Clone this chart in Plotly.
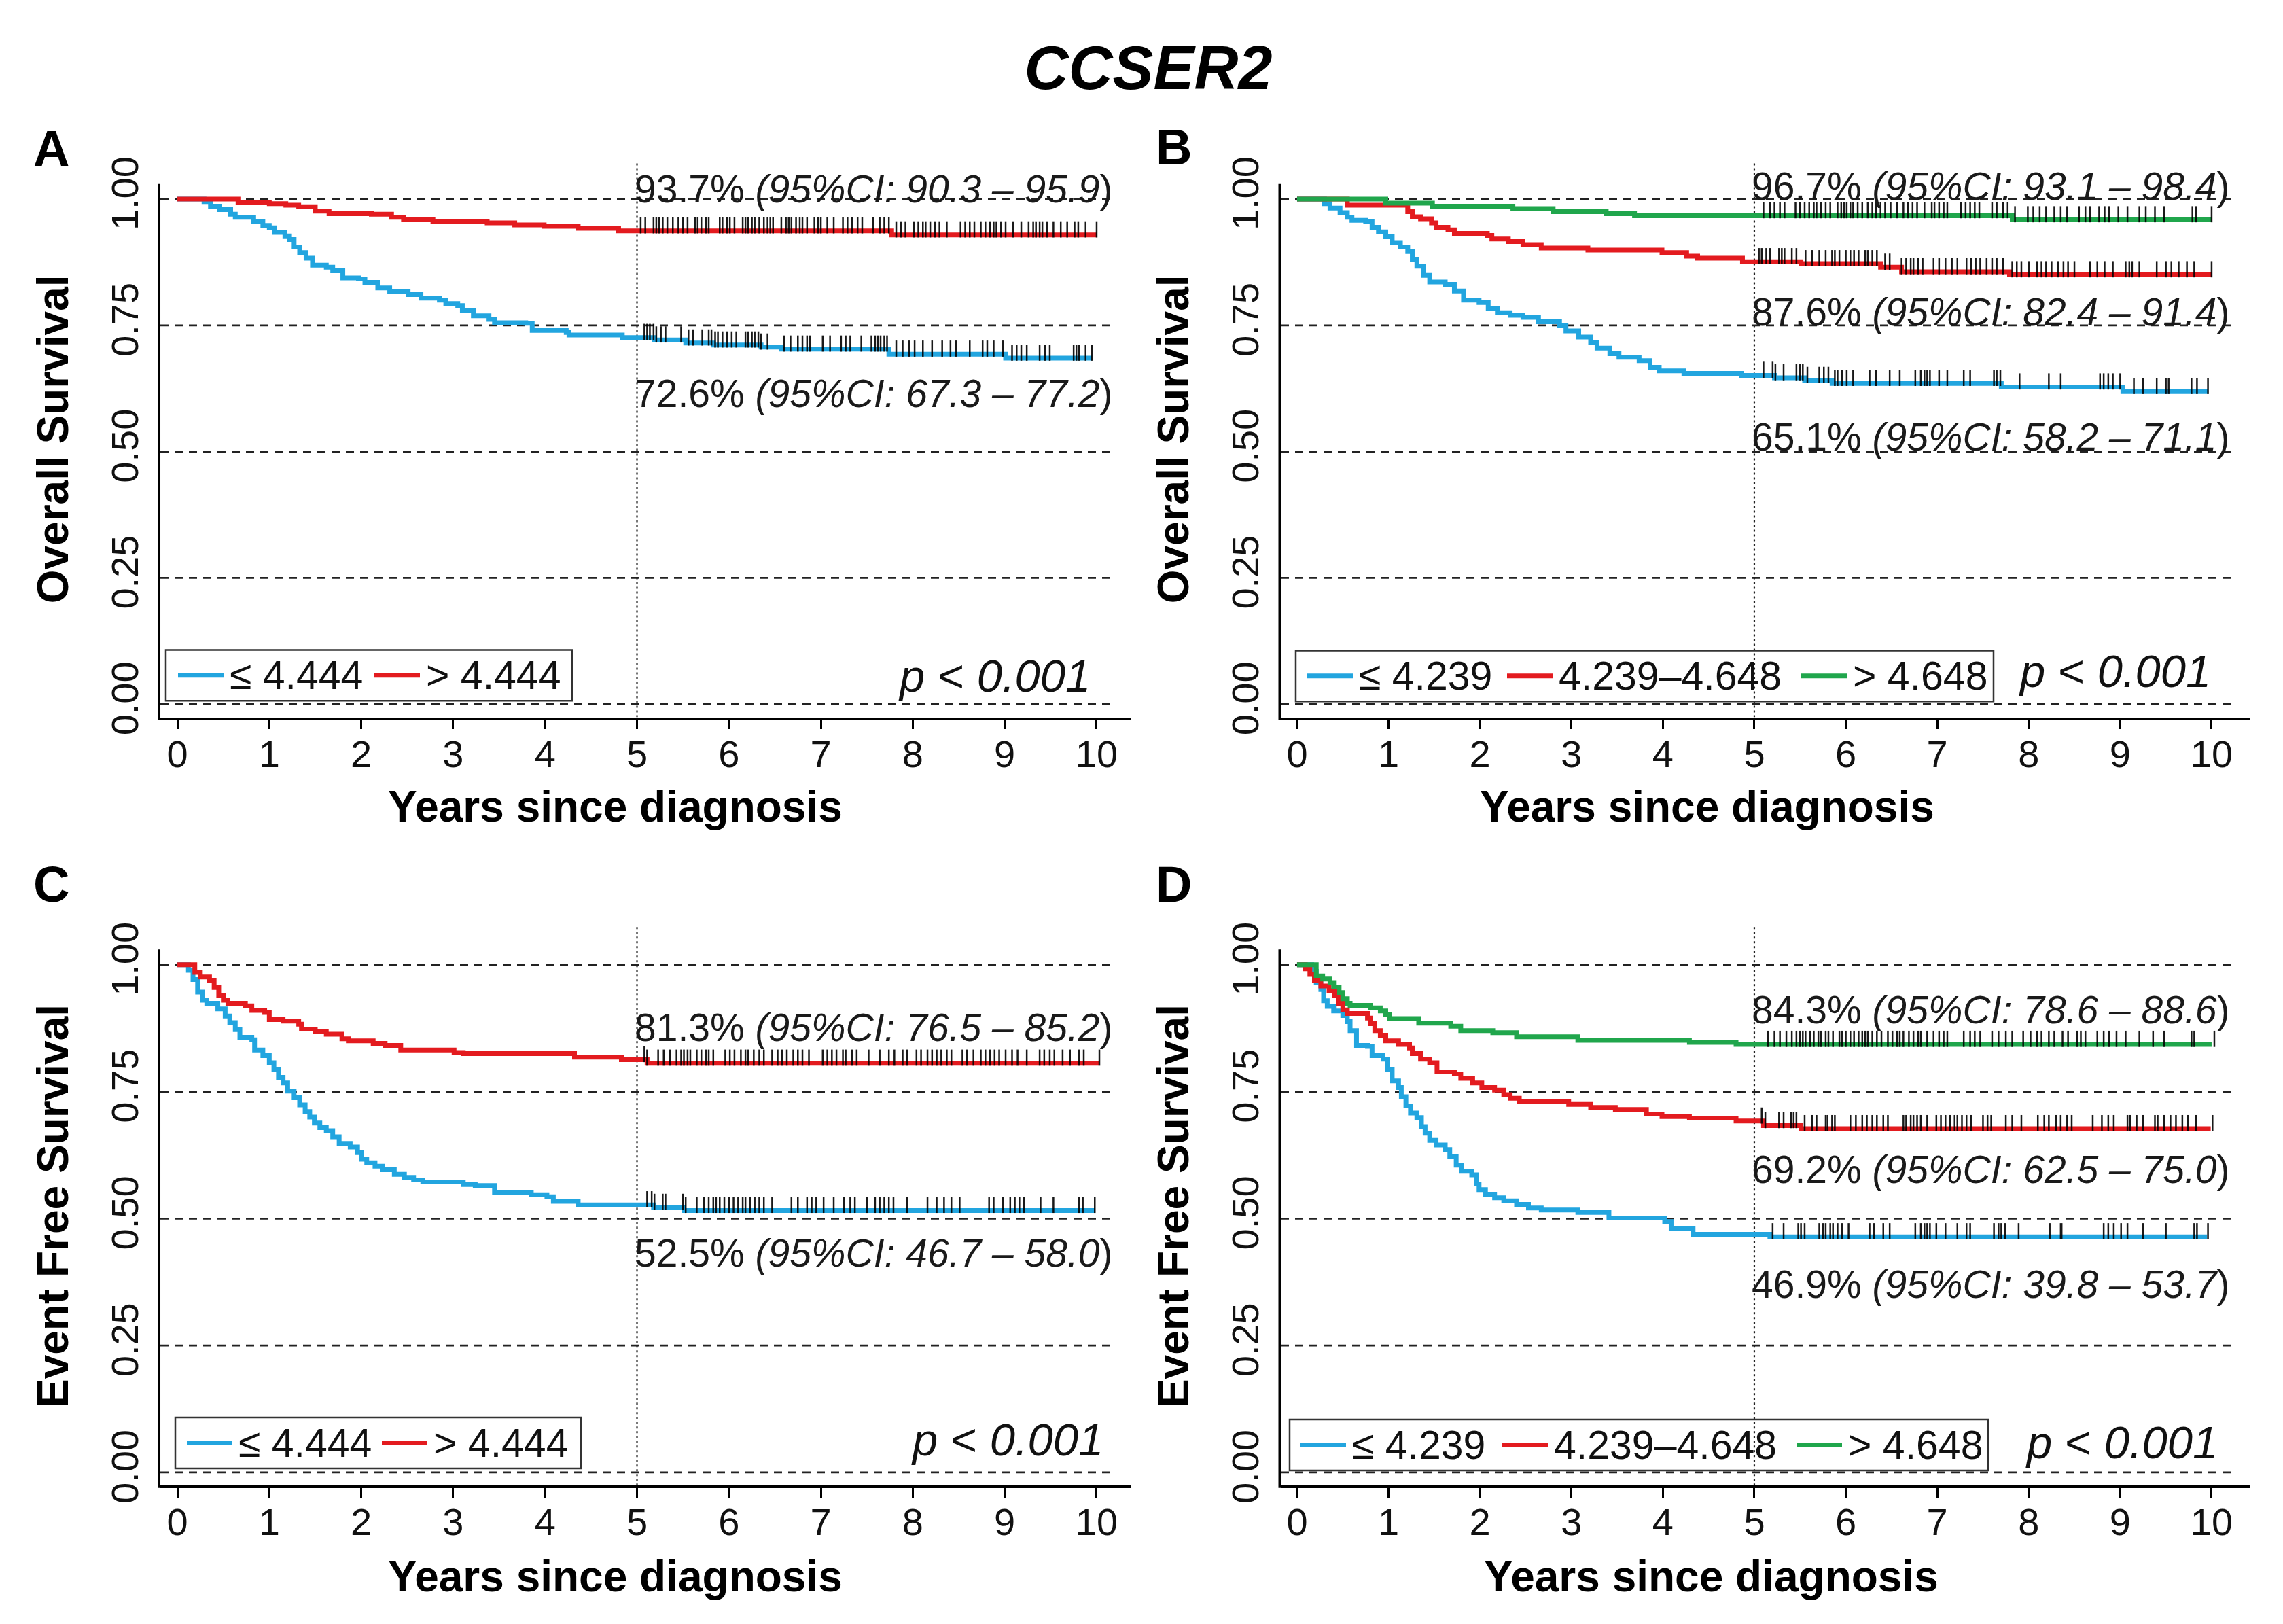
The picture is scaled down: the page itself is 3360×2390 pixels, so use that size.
import bisect
import plotly.graph_objects as go

# ---------------- data ----------------
# step times (years) and survival right after each step; END = last follow-up
A_LOW_T = [0.29, 0.36, 0.46, 0.58, 0.63, 0.83, 0.93, 1.00, 1.06, 1.17, 1.22, 1.27, 1.33, 1.40, 1.47, 1.62, 1.69, 1.80,
           1.97, 2.04, 2.18, 2.31, 2.51, 2.65, 2.85, 2.92, 3.05, 3.10, 3.22, 3.39, 3.45, 3.79, 3.86, 4.23, 4.26, 4.84,
           5.19, 5.53, 5.83, 6.35, 6.57, 7.74, 9.01]
A_LOW_S = [0.995, 0.986, 0.979, 0.970, 0.964, 0.955, 0.948, 0.943, 0.934, 0.927, 0.920, 0.905, 0.894, 0.883, 0.869,
           0.865, 0.858, 0.844, 0.842, 0.835, 0.824, 0.817, 0.811, 0.804, 0.800, 0.793, 0.789, 0.780, 0.769, 0.762,
           0.755, 0.754, 0.740, 0.736, 0.731, 0.726, 0.721, 0.715, 0.711, 0.707, 0.703, 0.693, 0.685]
A_LOW_END = 9.95
A_LOW_CENS = [5.08, 5.11, 5.14, 5.18, 5.21, 5.26, 5.31, 5.48, 5.56, 5.61, 5.71, 5.78, 5.81, 5.85, 5.88, 5.93, 5.98,
              6.03, 6.08, 6.18, 6.21, 6.25, 6.28, 6.32, 6.35, 6.42, 6.60, 6.67, 6.75, 6.80, 6.85, 6.88, 7.02, 7.10,
              7.22, 7.27, 7.32, 7.44, 7.55, 7.59, 7.62, 7.65, 7.69, 7.72, 7.82, 7.89, 7.96, 8.02, 8.11, 8.21, 8.32,
              8.41, 8.47, 8.62, 8.76, 8.81, 8.88, 8.98, 9.08, 9.13, 9.18, 9.24, 9.38, 9.44, 9.49, 9.75, 9.78, 9.81,
              9.88, 9.95]

A_HIGH_T = [0.66, 1.00, 1.18, 1.32, 1.50, 1.65, 2.11, 2.33, 2.46, 2.78, 3.37, 3.67, 3.99, 4.36, 4.80, 7.77]
A_HIGH_S = [0.994, 0.991, 0.988, 0.985, 0.976, 0.971, 0.970, 0.964, 0.960, 0.956, 0.953, 0.949, 0.946, 0.942,
            0.937, 0.929]
A_HIGH_END = 10.0
A_HIGH_CENS = [5.04, 5.09, 5.18, 5.21, 5.24, 5.28, 5.33, 5.39, 5.45, 5.50, 5.55, 5.63, 5.66, 5.70, 5.75, 5.78, 5.90,
               5.93, 5.98, 6.01, 6.06, 6.15, 6.18, 6.21, 6.25, 6.28, 6.33, 6.38, 6.42, 6.45, 6.48, 6.57, 6.62, 6.65,
               6.68, 6.73, 6.77, 6.80, 6.85, 6.93, 6.97, 7.00, 7.07, 7.14, 7.24, 7.29, 7.34, 7.40, 7.45, 7.57, 7.64,
               7.69, 7.74, 7.82, 7.87, 7.92, 8.01, 8.06, 8.11, 8.14, 8.19, 8.24, 8.29, 8.37, 8.52, 8.57, 8.62, 8.67,
               8.74, 8.79, 8.84, 8.88, 8.91, 8.96, 9.01, 9.09, 9.18, 9.26, 9.31, 9.34, 9.38, 9.41, 9.46, 9.53, 9.61,
               9.68, 9.76, 9.80, 9.88, 10.0]

B_LOW_T = [0.30, 0.36, 0.47, 0.55, 0.60, 0.75, 0.82, 0.89, 0.97, 1.04, 1.13, 1.21, 1.26, 1.31, 1.38, 1.45, 1.62, 1.72,
           1.82, 1.99, 2.09, 2.19, 2.33, 2.47, 2.64, 2.87, 2.94, 3.08, 3.21, 3.28, 3.42, 3.52, 3.74, 3.86, 3.96, 4.23,
           4.86, 5.22, 5.55, 5.85, 7.70, 9.03]
B_LOW_S = [0.991, 0.982, 0.973, 0.964, 0.958, 0.955, 0.944, 0.935, 0.926, 0.914, 0.905, 0.896, 0.881, 0.867, 0.849,
           0.836, 0.831, 0.818, 0.800, 0.795, 0.784, 0.775, 0.770, 0.766, 0.757, 0.750, 0.739, 0.727, 0.716, 0.705,
           0.694, 0.687, 0.680, 0.667, 0.660, 0.655, 0.651, 0.646, 0.641, 0.635, 0.628, 0.619]
B_LOW_END = 9.96
B_LOW_CENS = [5.10, 5.20, 5.23, 5.32, 5.46, 5.50, 5.53, 5.58, 5.71, 5.76, 5.81, 5.88, 5.91, 5.96, 6.01, 6.08, 6.26,
              6.33, 6.48, 6.59, 6.76, 6.82, 6.86, 6.89, 6.92, 7.02, 7.11, 7.29, 7.36, 7.62, 7.65, 7.69, 7.90, 8.22,
              8.35, 8.78, 8.82, 8.87, 8.92, 9.00, 9.15, 9.25, 9.40, 9.50, 9.53, 9.78, 9.84, 9.96]

B_MID_T = [0.55, 1.21, 1.26, 1.35, 1.47, 1.52, 1.65, 1.72, 2.08, 2.13, 2.31, 2.47, 2.67, 3.18, 3.99, 4.26, 4.38, 4.87,
           5.51, 6.38, 6.61, 7.79]
B_MID_S = [0.988, 0.975, 0.965, 0.961, 0.953, 0.944, 0.939, 0.932, 0.928, 0.921, 0.916, 0.910, 0.903, 0.899, 0.894,
           0.887, 0.883, 0.876, 0.872, 0.865, 0.856, 0.850]
B_MID_END = 10.0
B_MID_CENS = [5.05, 5.08, 5.13, 5.17, 5.27, 5.30, 5.33, 5.41, 5.46, 5.56, 5.63, 5.71, 5.78, 5.85, 5.88, 5.93, 6.00,
              6.05, 6.09, 6.14, 6.21, 6.24, 6.29, 6.34, 6.43, 6.48, 6.61, 6.66, 6.71, 6.74, 6.79, 6.84, 6.96, 7.02,
              7.09, 7.16, 7.22, 7.32, 7.37, 7.42, 7.47, 7.54, 7.60, 7.65, 7.72, 7.82, 7.87, 7.92, 8.00, 8.09, 8.14,
              8.19, 8.25, 8.32, 8.38, 8.43, 8.50, 8.67, 8.75, 8.83, 8.92, 9.06, 9.10, 9.13, 9.21, 9.40, 9.50, 9.56,
              9.64, 9.73, 9.81, 10.0]

B_HIGH_T = [0.97, 1.48, 2.36, 2.80, 3.38, 3.69, 7.82]
B_HIGH_S = [0.992, 0.986, 0.981, 0.975, 0.971, 0.967, 0.959]
B_HIGH_END = 10.0
B_HIGH_CENS = [5.10, 5.17, 5.22, 5.28, 5.33, 5.45, 5.50, 5.55, 5.60, 5.65, 5.68, 5.73, 5.78, 5.83, 5.91, 5.95, 5.98,
               6.01, 6.05, 6.08, 6.13, 6.18, 6.24, 6.29, 6.33, 6.38, 6.43, 6.49, 6.56, 6.63, 6.68, 6.73, 6.78, 6.86,
               6.94, 6.97, 7.02, 7.07, 7.11, 7.26, 7.31, 7.36, 7.41, 7.46, 7.60, 7.65, 7.72, 7.77, 7.85, 7.99, 8.05,
               8.12, 8.19, 8.28, 8.35, 8.42, 8.55, 8.62, 8.67, 8.77, 8.83, 8.88, 8.98, 9.08, 9.21, 9.28, 9.38, 9.48,
               9.79, 9.83, 10.0]

C_LOW_T = [0.12, 0.17, 0.22, 0.27, 0.32, 0.44, 0.52, 0.57, 0.63, 0.68, 0.81, 0.84, 0.93, 1.00, 1.05, 1.10, 1.15, 1.20,
           1.27, 1.33, 1.39, 1.44, 1.49, 1.55, 1.62, 1.69, 1.76, 1.88, 1.96, 2.00, 2.06, 2.15, 2.23, 2.36, 2.47, 2.57,
           2.67, 3.11, 3.24, 3.45, 3.85, 4.02, 4.09, 4.36, 5.18, 5.51]
C_LOW_S = [0.989, 0.971, 0.946, 0.930, 0.924, 0.913, 0.899, 0.886, 0.872, 0.857, 0.852, 0.832, 0.821, 0.807, 0.794,
           0.778, 0.767, 0.751, 0.738, 0.724, 0.711, 0.700, 0.688, 0.679, 0.673, 0.661, 0.648, 0.641, 0.630, 0.617,
           0.610, 0.603, 0.596, 0.587, 0.581, 0.576, 0.572, 0.567, 0.565, 0.552, 0.547, 0.543, 0.534, 0.527, 0.522,
           0.516]
C_LOW_END = 9.98
C_LOW_CENS = [5.11, 5.16, 5.19, 5.28, 5.31, 5.50, 5.53, 5.65, 5.73, 5.78, 5.83, 5.86, 5.90, 5.95, 6.00, 6.05, 6.10,
              6.15, 6.18, 6.23, 6.28, 6.33, 6.38, 6.47, 6.68, 6.75, 6.85, 6.90, 6.95, 7.03, 7.14, 7.25, 7.32, 7.37,
              7.50, 7.59, 7.64, 7.69, 7.74, 7.79, 7.94, 8.16, 8.26, 8.34, 8.42, 8.51, 8.83, 8.88, 8.98, 9.06, 9.11,
              9.16, 9.21, 9.39, 9.53, 9.81, 9.85, 9.98]

C_HIGH_T = [0.19, 0.25, 0.35, 0.40, 0.45, 0.50, 0.55, 0.74, 0.81, 0.95, 1.00, 1.15, 1.32, 1.35, 1.50, 1.62, 1.79, 1.86,
            2.13, 2.26, 2.43, 3.01, 3.11, 4.32, 4.83, 5.11]
C_HIGH_S = [0.985, 0.976, 0.969, 0.955, 0.940, 0.930, 0.924, 0.919, 0.910, 0.906, 0.892, 0.889, 0.883, 0.873, 0.868,
            0.863, 0.854, 0.850, 0.845, 0.841, 0.832, 0.827, 0.825, 0.818, 0.813, 0.806]
C_HIGH_END = 10.03
C_HIGH_CENS = [5.08, 5.11, 5.23, 5.29, 5.36, 5.43, 5.48, 5.51, 5.55, 5.58, 5.65, 5.70, 5.75, 5.78, 5.83, 5.96, 6.01,
               6.06, 6.13, 6.18, 6.21, 6.27, 6.33, 6.38, 6.47, 6.53, 6.58, 6.63, 6.70, 6.75, 6.80, 6.87, 7.02, 7.07,
               7.12, 7.17, 7.24, 7.27, 7.34, 7.39, 7.52, 7.64, 7.74, 7.80, 7.89, 7.94, 8.04, 8.09, 8.16, 8.21, 8.26,
               8.31, 8.37, 8.42, 8.54, 8.59, 8.66, 8.74, 8.79, 8.84, 8.89, 8.94, 9.01, 9.08, 9.14, 9.24, 9.38, 9.43,
               9.49, 9.54, 9.63, 9.71, 9.81, 9.86, 10.03]

D_LOW_T = [0.16, 0.21, 0.26, 0.29, 0.33, 0.40, 0.50, 0.55, 0.58, 0.65, 0.77, 0.82, 0.94, 0.99, 1.04, 1.11, 1.14, 1.19,
           1.24, 1.31, 1.36, 1.40, 1.45, 1.52, 1.62, 1.67, 1.74, 1.80, 1.91, 1.96, 1.99, 2.06, 2.16, 2.26, 2.40, 2.53,
           2.67, 3.07, 3.41, 4.02, 4.09, 4.33, 5.17]
D_LOW_S = [0.987, 0.965, 0.951, 0.929, 0.918, 0.909, 0.900, 0.888, 0.870, 0.841, 0.839, 0.821, 0.814, 0.794, 0.771,
           0.758, 0.740, 0.722, 0.708, 0.699, 0.681, 0.668, 0.654, 0.645, 0.636, 0.623, 0.605, 0.593, 0.586, 0.568,
           0.557, 0.548, 0.541, 0.535, 0.528, 0.521, 0.517, 0.512, 0.501, 0.494, 0.481, 0.469, 0.464]
D_LOW_END = 9.95
D_LOW_CENS = [5.20, 5.32, 5.48, 5.51, 5.55, 5.71, 5.75, 5.78, 5.83, 5.86, 5.91, 5.96, 6.03, 6.26, 6.31, 6.41, 6.48,
              6.76, 6.82, 6.86, 6.89, 6.92, 6.99, 7.09, 7.22, 7.32, 7.36, 7.62, 7.67, 7.70, 7.74, 7.89, 8.23, 8.35,
              8.36, 8.82, 8.87, 8.93, 9.01, 9.08, 9.25, 9.50, 9.81, 9.84, 9.96]

D_MID_T = [0.09, 0.14, 0.19, 0.26, 0.35, 0.41, 0.45, 0.50, 0.55, 0.77, 0.80, 0.85, 0.91, 0.97, 1.11, 1.23, 1.26, 1.35,
           1.45, 1.53, 1.72, 1.79, 1.92, 2.02, 2.16, 2.26, 2.33, 2.43, 2.97, 3.21, 3.48, 3.82, 3.99, 4.29, 4.80, 5.10,
           5.51]
D_MID_S = [0.992, 0.981, 0.969, 0.958, 0.949, 0.940, 0.924, 0.911, 0.904, 0.895, 0.884, 0.870, 0.861, 0.850, 0.843,
           0.836, 0.825, 0.814, 0.807, 0.789, 0.785, 0.776, 0.767, 0.758, 0.753, 0.744, 0.737, 0.731, 0.725, 0.719,
           0.715, 0.706, 0.701, 0.698, 0.692, 0.683, 0.677]
D_MID_END = 9.99
D_MID_CENS = [5.08, 5.12, 5.27, 5.32, 5.40, 5.43, 5.46, 5.55, 5.63, 5.68, 5.78, 5.80, 5.85, 5.88, 6.05, 6.11, 6.18,
              6.23, 6.29, 6.34, 6.41, 6.46, 6.63, 6.66, 6.71, 6.74, 6.78, 6.82, 6.89, 6.99, 7.04, 7.09, 7.14, 7.19,
              7.22, 7.27, 7.32, 7.37, 7.50, 7.55, 7.59, 7.75, 7.82, 7.92, 8.10, 8.17, 8.22, 8.30, 8.35, 8.42, 8.47,
              8.70, 8.80, 8.87, 8.93, 9.08, 9.11, 9.18, 9.25, 9.38, 9.41, 9.48, 9.55, 9.61, 9.68, 9.74, 9.83, 10.01]

D_HIGH_T = [0.21, 0.28, 0.36, 0.40, 0.46, 0.50, 0.55, 0.58, 0.80, 0.91, 0.97, 1.01, 1.33, 1.68, 1.79, 2.14, 2.40,
            3.07, 4.29, 4.80]
D_HIGH_S = [0.978, 0.972, 0.965, 0.956, 0.945, 0.933, 0.924, 0.920, 0.915, 0.909, 0.902, 0.894, 0.885, 0.879, 0.870,
            0.866, 0.858, 0.851, 0.847, 0.843]
D_HIGH_END = 10.0
D_HIGH_CENS = [5.15, 5.22, 5.28, 5.35, 5.41, 5.46, 5.50, 5.53, 5.56, 5.61, 5.65, 5.70, 5.73, 5.78, 5.81, 5.86, 5.93,
               5.96, 6.00, 6.05, 6.09, 6.14, 6.18, 6.21, 6.24, 6.29, 6.34, 6.39, 6.46, 6.51, 6.56, 6.59, 6.63, 6.69,
               6.74, 6.79, 6.82, 6.89, 6.96, 7.02, 7.07, 7.11, 7.29, 7.36, 7.41, 7.47, 7.60, 7.67, 7.75, 7.82, 7.94,
               8.02, 8.09, 8.14, 8.22, 8.28, 8.37, 8.43, 8.53, 8.57, 8.62, 8.75, 8.82, 8.88, 8.96, 9.06, 9.21, 9.36,
               9.48, 9.78, 9.81, 10.03]

LEGEND_2 = ["≤ 4.444", "> 4.444"]
LEGEND_3 = ["≤ 4.239", "4.239–4.648", "> 4.648"]

A_LABELS = ["93.7% <i>(95%CI: 90.3 – 95.9</i>)", "72.6% <i>(95%CI: 67.3 – 77.2</i>)"]
B_LABELS = ["96.7% <i>(95%CI: 93.1 – 98.4</i>)", "87.6% <i>(95%CI: 82.4 – 91.4</i>)",
            "65.1% <i>(95%CI: 58.2 – 71.1</i>)"]
C_LABELS = ["81.3% <i>(95%CI: 76.5 – 85.2</i>)", "52.5% <i>(95%CI: 46.7 – 58.0</i>)"]
D_LABELS = ["84.3% <i>(95%CI: 78.6 – 88.6</i>)", "69.2% <i>(95%CI: 62.5 – 75.0</i>)",
            "46.9% <i>(95%CI: 39.8 – 53.7</i>)"]
A_LABEL_Y = [1.02, 0.615]
B_LABEL_Y = [1.025, 0.776, 0.529]
C_LABEL_Y = [0.876, 0.432]
D_LABEL_Y = [0.911, 0.597, 0.371]
P_TEXT = "<i>p</i> < <i>0.001</i>"
Y_TICKS = [0, 0.25, 0.5, 0.75, 1.0]
Y_TICKTEXT = ["0.00", "0.25", "0.50", "0.75", "1.00"]
X_TICKS = list(range(0, 11))
LANDMARK_YEAR = 5

# ---------------- styles / layout constants ----------------
FONT = "Liberation Sans, Arial, sans-serif"
BLUE, RED, GREEN = "#22A5DF", "#E31B1F", "#20A64C"
LINE_W = 7
TICK_RAISE = 0.011
W, H = 3360, 2390

LEFT_DOM, RIGHT_DOM = [0.06786, 0.49327], [0.55863, 0.98318]
TOP_DOM, BOT_DOM = [0.55833, 0.90567], [0.07837, 0.42755]
LEFT_XR, RIGHT_XR = [-0.185, 10.38], [-0.178, 10.42]
TOP_YR, BOT_YR = [-0.026, 1.075], [-0.026, 1.075]
AXIS_TOP = 1.03


def km_at(times, surv, t):
    i = bisect.bisect_right(times, t)
    return 1.0 if i == 0 else surv[i - 1]


def px(xpix):
    return xpix / W


def py(ypix):
    return 1 - ypix / H


panels = [
    dict(sfx="", xdom=LEFT_DOM, ydom=TOP_DOM, xr=LEFT_XR, yr=TOP_YR, ytitle="Overall Survival", dash_end=10.19,
         series=[(A_LOW_T, A_LOW_S, A_LOW_END, A_LOW_CENS, BLUE, LEGEND_2[0]),
                 (A_HIGH_T, A_HIGH_S, A_HIGH_END, A_HIGH_CENS, RED, LEGEND_2[1])],
         labels=A_LABELS, label_y=A_LABEL_Y, p_xy=(9.95, 0.056), letter="A", letter_xy=(67, 206),
         xtitle_xy=(897, 1189), leg_box=(236, 955, 834, 1031), leg_lines=[18, 307]),
    dict(sfx="2", xdom=RIGHT_DOM, ydom=TOP_DOM, xr=RIGHT_XR, yr=TOP_YR, ytitle="Overall Survival", dash_end=10.22,
         series=[(B_LOW_T, B_LOW_S, B_LOW_END, B_LOW_CENS, BLUE, LEGEND_3[0]),
                 (B_MID_T, B_MID_S, B_MID_END, B_MID_CENS, RED, LEGEND_3[1]),
                 (B_HIGH_T, B_HIGH_S, B_HIGH_END, B_HIGH_CENS, GREEN, LEGEND_3[2])],
         labels=B_LABELS, label_y=B_LABEL_Y, p_xy=(10.01, 0.065), letter="B", letter_xy=(1720, 204),
         xtitle_xy=(2504, 1189), leg_box=(1899, 956, 2926, 1032), leg_lines=[17, 311, 744]),
    dict(sfx="3", xdom=LEFT_DOM, ydom=BOT_DOM, xr=LEFT_XR, yr=BOT_YR, ytitle="Event Free Survival", dash_end=10.19,
         series=[(C_LOW_T, C_LOW_S, C_LOW_END, C_LOW_CENS, BLUE, LEGEND_2[0]),
                 (C_HIGH_T, C_HIGH_S, C_HIGH_END, C_HIGH_CENS, RED, LEGEND_2[1])],
         labels=C_LABELS, label_y=C_LABEL_Y, p_xy=(10.09, 0.065), letter="C", letter_xy=(67, 1305),
         xtitle_xy=(897, 2338), leg_box=(250, 2101, 847, 2177), leg_lines=[17, 304]),
    dict(sfx="4", xdom=RIGHT_DOM, ydom=BOT_DOM, xr=RIGHT_XR, yr=BOT_YR, ytitle="Event Free Survival", dash_end=10.22,
         series=[(D_LOW_T, D_LOW_S, D_LOW_END, D_LOW_CENS, BLUE, LEGEND_3[0]),
                 (D_MID_T, D_MID_S, D_MID_END, D_MID_CENS, RED, LEGEND_3[1]),
                 (D_HIGH_T, D_HIGH_S, D_HIGH_END, D_HIGH_CENS, GREEN, LEGEND_3[2])],
         labels=D_LABELS, label_y=D_LABEL_Y, p_xy=(10.08, 0.060), letter="D", letter_xy=(1720, 1305),
         xtitle_xy=(2510, 2338), leg_box=(1890, 2104, 2918, 2180), leg_lines=[16, 313, 746]),
]

fig = go.Figure()
shapes, annotations = [], []
layout = dict(width=W, height=H, margin=dict(l=0, r=0, t=0, b=0), paper_bgcolor="white", plot_bgcolor="white",
              font=dict(family=FONT, color="black"), showlegend=False)

for p in panels:
    xa, ya = "x" + p["sfx"], "y" + p["sfx"]
    # Kaplan-Meier step curves
    for times, surv, end, cens, color, name in p["series"]:
        fig.add_trace(go.Scatter(
            x=[0] + times + [end], y=[1.0] + surv + [surv[-1]], mode="lines",
            line=dict(color=color, width=LINE_W, shape="hv"), name=name, xaxis=xa, yaxis=ya, hoverinfo="skip"))
    # censoring marks
    for times, surv, end, cens, color, name in p["series"]:
        fig.add_trace(go.Scatter(
            x=cens, y=[km_at(times, surv, t) + TICK_RAISE for t in cens], mode="markers", name=name + " censored",
            marker=dict(symbol="line-ns", size=17, line=dict(width=2.5, color="rgba(0,0,0,0.9)")),
            xaxis=xa, yaxis=ya, showlegend=False, hoverinfo="skip", cliponaxis=False))

    # axes
    layout["xaxis" + p["sfx"]] = dict(
        domain=p["xdom"], range=p["xr"], anchor=ya, showline=True, linecolor="black", linewidth=3.5,
        ticks="outside", ticklen=14, tickwidth=3, tickcolor="black", tickvals=X_TICKS, ticklabelstandoff=-12,
        tickfont=dict(size=56, family=FONT, color="#111"), showgrid=False, zeroline=False)
    layout["yaxis" + p["sfx"]] = dict(
        domain=p["ydom"], range=p["yr"], anchor=xa, showline=False, ticks="outside", ticklen=10,
        tickcolor="rgba(0,0,0,0)", tickvals=Y_TICKS, ticktext=Y_TICKTEXT, tickangle=-90,
        tickfont=dict(size=56, family=FONT, color="#111"), showgrid=False, zeroline=False,
        title=dict(text=p["ytitle"], font=dict(size=64, family=FONT, weight="bold"), standoff=30))
    annotations.append(dict(xref="paper", yref="paper", x=px(p["xtitle_xy"][0]), y=py(p["xtitle_xy"][1]),
                            text="<b>Years since diagnosis</b>", showarrow=False, xanchor="center",
                            yanchor="middle", font=dict(size=64, family=FONT, color="black")))

    # y axis line (stops a little above 1.00, as in the original)
    y0p, y1p = p["ydom"]
    r0, r1 = p["yr"]
    top_paper = y0p + (AXIS_TOP - r0) / (r1 - r0) * (y1p - y0p)
    xline = p["xdom"][0] - 1.75 / W
    shapes.append(dict(type="line", xref="paper", yref="paper", x0=xline, x1=xline, y0=y0p - 3.5 / H,
                       y1=top_paper, line=dict(color="black", width=3.5)))
    # dashed reference lines
    for yv in Y_TICKS:
        shapes.append(dict(type="line", xref=xa, yref=ya, x0=p["xr"][0], x1=p["dash_end"], y0=yv, y1=yv,
                           line=dict(color="#222", width=2.8, dash="12px,9px"), layer="below"))
    shapes.append(dict(type="line", xref=xa, yref=ya, x0=LANDMARK_YEAR, x1=LANDMARK_YEAR, y0=p["yr"][0],
                       y1=p["yr"][1], line=dict(color="#222", width=2.2, dash="3px,4px"), layer="below"))

    # survival estimate labels
    for txt, yv in zip(p["labels"], p["label_y"]):
        annotations.append(dict(xref=xa, yref=ya, x=LANDMARK_YEAR, y=yv, text=txt, showarrow=False, xshift=-6,
                                xanchor="left", yanchor="middle", font=dict(size=57, family=FONT, color="#1a1a1a")))
    annotations.append(dict(xref=xa, yref=ya, x=p["p_xy"][0], y=p["p_xy"][1], text=P_TEXT, showarrow=False,
                            xanchor="right", yanchor="middle", font=dict(size=67, family=FONT, color="#111")))
    # panel letter
    annotations.append(dict(xref="paper", yref="paper", x=px(p["letter_xy"][0]), y=py(p["letter_xy"][1]),
                            text="<b>%s</b>" % p["letter"], showarrow=False, xanchor="center", yanchor="middle",
                            font=dict(size=74, family=FONT, color="black")))
    # legend box
    bx0, by0, bx1, by1 = p["leg_box"]
    ymid = (by0 + by1) / 2
    shapes.append(dict(type="rect", xref="paper", yref="paper", x0=px(bx0), x1=px(bx1), y0=py(by1), y1=py(by0),
                       line=dict(color="#333", width=2.5), fillcolor="rgba(0,0,0,0)"))
    for (times, surv, end, cens, color, name), off in zip(p["series"], p["leg_lines"]):
        shapes.append(dict(type="line", xref="paper", yref="paper", x0=px(bx0 + off), x1=px(bx0 + off + 67),
                           y0=py(ymid), y1=py(ymid), line=dict(color=color, width=LINE_W)))
        annotations.append(dict(xref="paper", yref="paper", x=px(bx0 + off + 74), y=py(ymid), text=name,
                                showarrow=False, xanchor="left", yanchor="middle",
                                font=dict(size=59, family=FONT, color="#111")))

layout["shapes"] = shapes
layout["annotations"] = annotations
layout["title"] = dict(text="<b><i>CCSER2</i></b>", x=0.5006, y=py(91), xanchor="center", yanchor="middle",
                       font=dict(size=90, family=FONT, color="black"))
fig.update_layout(**layout)
fig.write_html("out.html")
